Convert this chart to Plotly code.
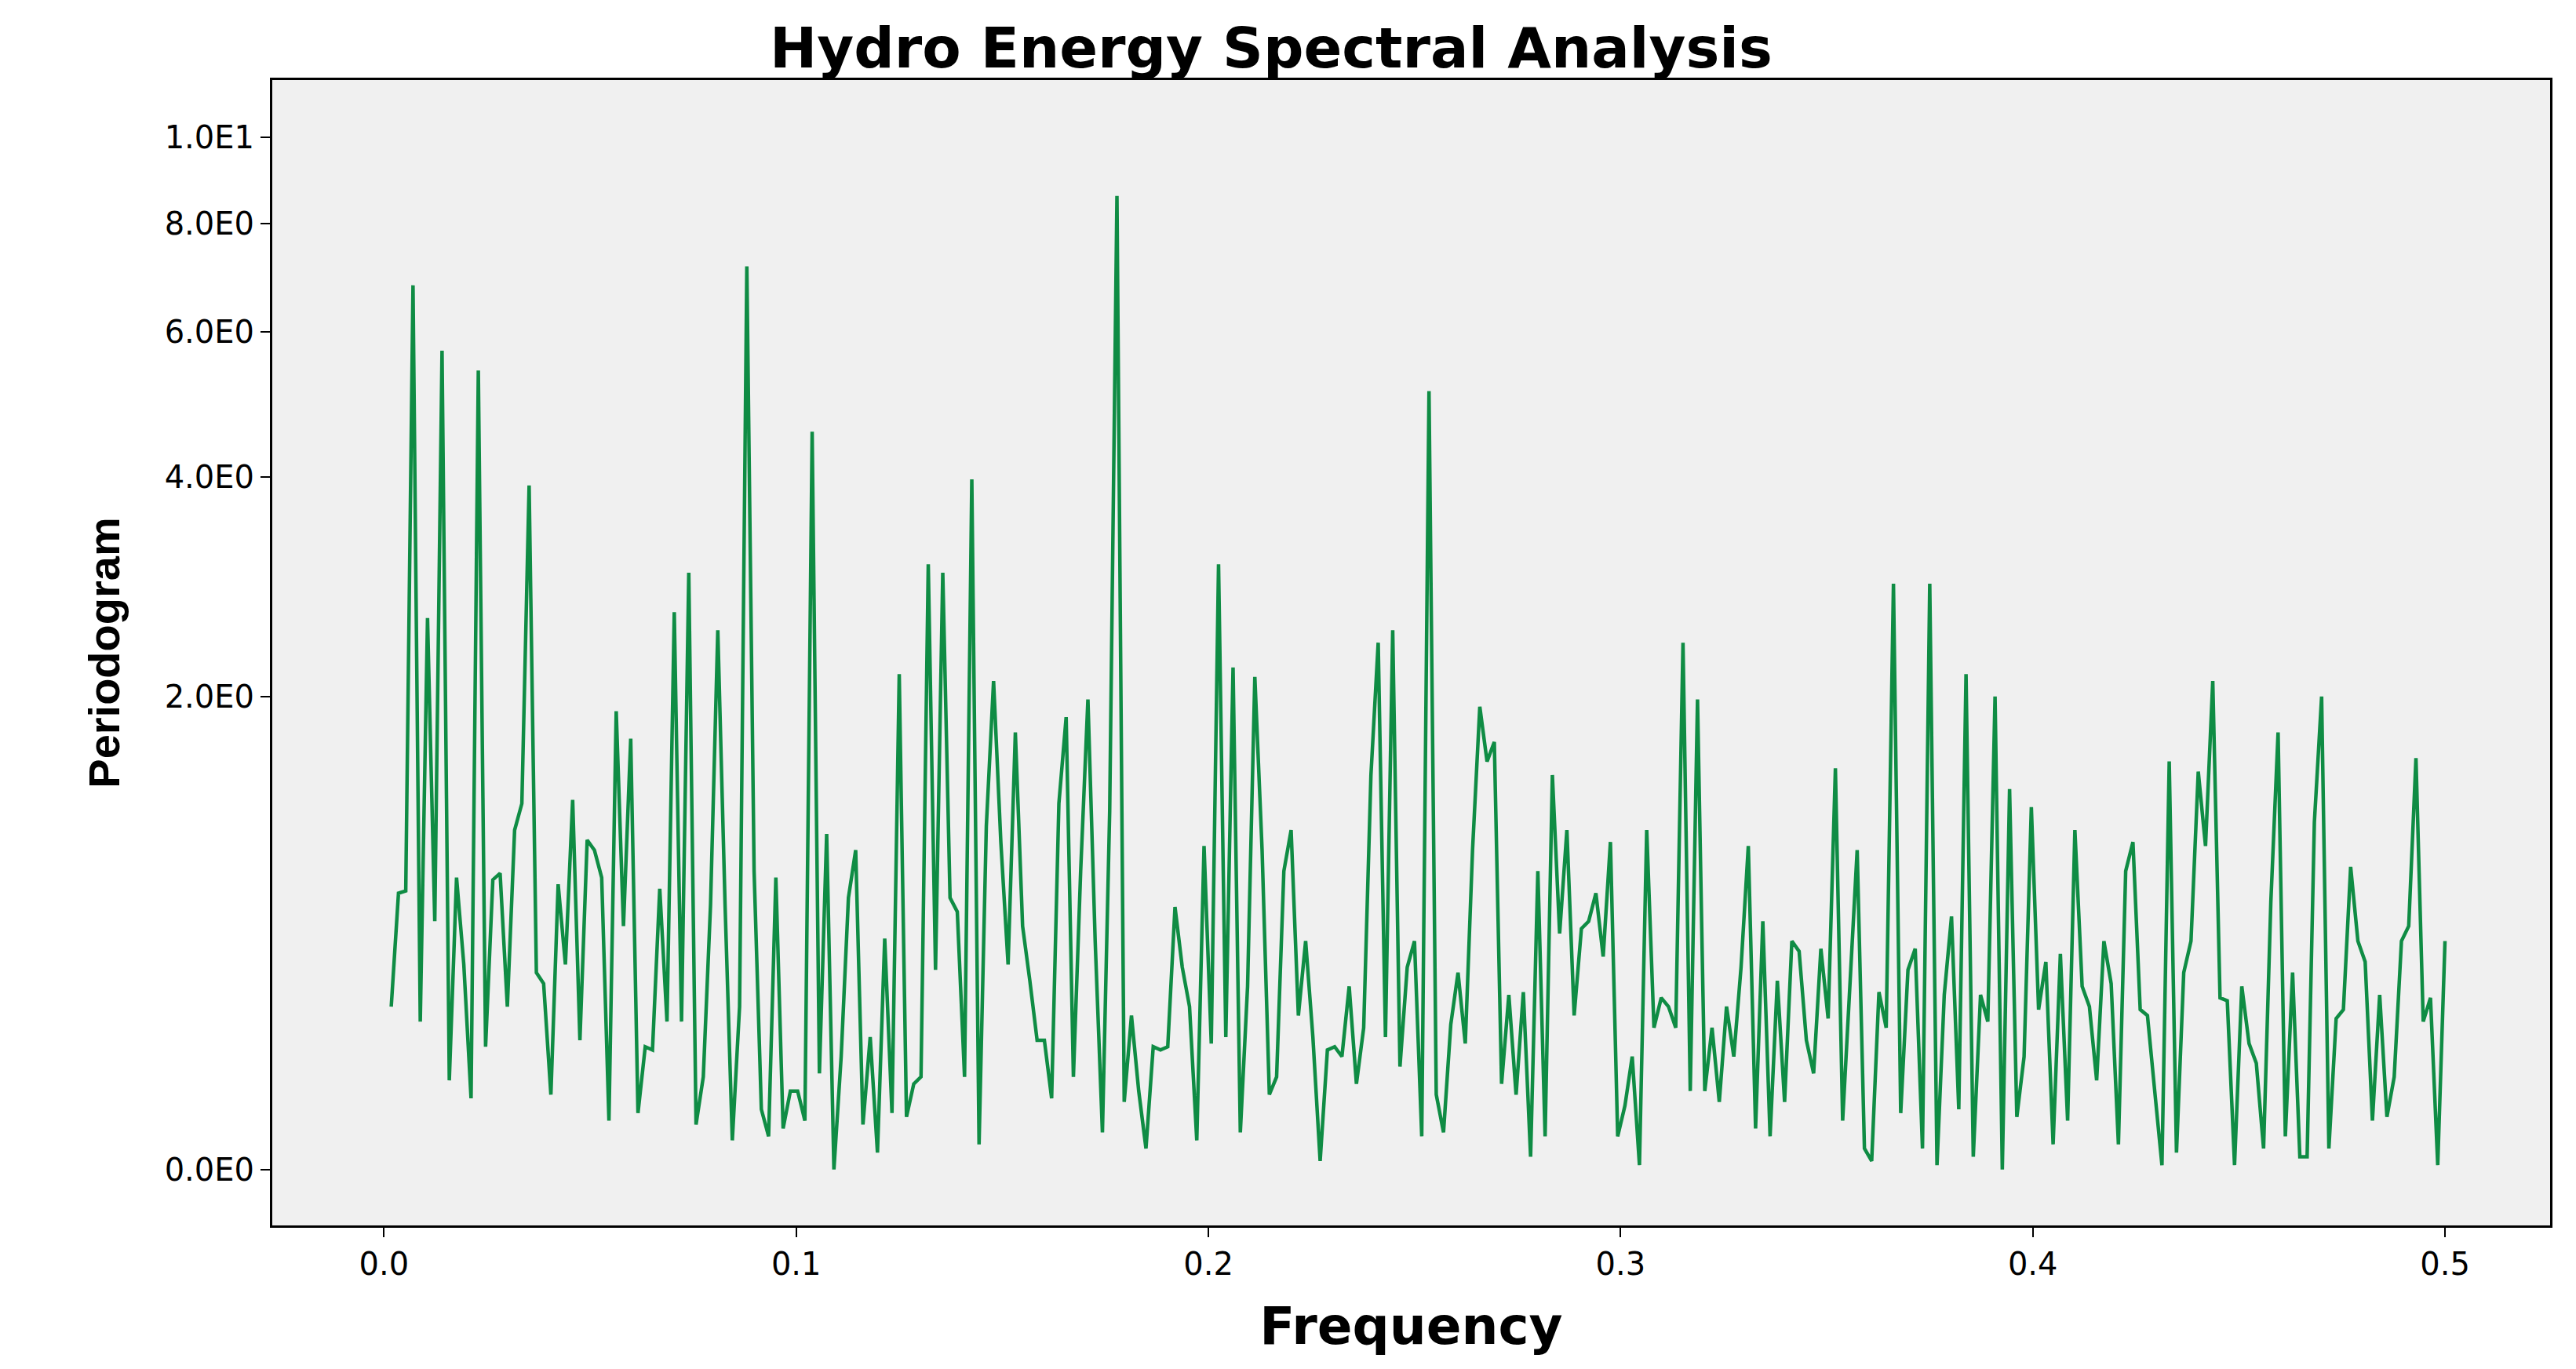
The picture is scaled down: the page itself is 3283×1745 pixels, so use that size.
import numpy as np
import plotly.graph_objects as go

periodogram = [
 0.46,0.90,0.91,6.8,0.41,2.6,0.78,5.7,0.23,0.97,0.61,0.18,5.4,0.33,0.96,0.99,0.46,1.2,1.34,3.9,
 0.58,0.54,0.19,0.94,0.61,1.36,0.35,1.15,1.1,0.97,0.12,1.9,0.76,1.72,0.14,0.33,0.32,0.92,0.41,2.65,
 0.41,3.0,0.11,0.24,0.85,2.5,0.85,0.07,0.46,7.15,1.0,0.15,0.08,0.97,0.1,0.2,0.2,0.12,4.55,
 0.25,1.18,0.0,0.30,0.88,1.1,0.11,0.36,0.04,0.71,0.14,2.16,0.13,0.22,0.24,3.08,0.59,3.0,0.88,0.82,
 0.24,3.97,0.06,1.22,2.11,1.14,0.61,1.76,0.76,0.55,0.35,0.35,0.18,1.34,1.86,0.24,1.0,1.98,0.70,0.09,1.3,8.6,
 0.17,0.43,0.2,0.05,0.33,0.32,0.33,0.84,0.6,0.46,0.07,1.12,0.34,3.08,0.36,2.21,
 0.09,0.53,2.14,1.1,0.19,0.24,1.0,1.2,0.43,0.7,0.36,0.02,0.32,0.33,0.3,0.53,0.22,0.39,1.5,2.4,0.36,2.5,0.27,0.6,0.70,
 0.08,5.1,0.19,0.09,0.4,0.58,0.34,1.1,1.93,1.58,1.70,0.22,0.5,0.19,0.51,0.03,1.0,0.08,1.5,0.73,1.2,0.43,0.75,0.78,0.9,
 0.64,1.14,0.08,0.16,0.3,0.01,1.2,0.39,0.49,0.46,0.39,
 2.4,0.2,1.98,0.2,0.39,0.17,0.46,0.30,0.6,1.12,0.1,0.78,0.08,0.55,0.17,0.70,0.66,0.35,0.25,0.67,0.42,1.54,
 0.12,0.54,1.1,0.05,0.02,0.51,0.39,2.9,0.14,0.59,0.67,0.05,2.9,0.01,0.5,0.8,0.15,2.16,0.03,0.5,0.41,2.0,
 0.0,1.42,0.13,0.3,1.32,0.45,0.62,0.06,0.65,0.12,1.2,0.53,0.46,0.23,
 0.7,0.54,0.06,1.0,1.14,0.45,0.43,0.2,0.01,1.58,0.04,0.58,0.70,1.52,1.12,2.11,0.49,0.48,0.01,0.53,0.34,
 0.28,0.05,0.86,1.76,0.08,0.58,0.03,0.03,1.24,2.0,0.05,0.42,0.45,1.02,0.70,0.62,0.12,0.5,0.13,0.24,
 0.70,0.76,1.6,0.41,0.49,0.01,0.70]
n = len(periodogram)
frequency = [(i + 1) / (2 * n) for i in range(n)]

y_tick_values = [0, 2, 4, 6, 8, 10]
y_tick_labels = ["0.0E0", "2.0E0", "4.0E0", "6.0E0", "8.0E0", "1.0E1"]
x_tick_values = [0.0, 0.1, 0.2, 0.3, 0.4, 0.5]
x_tick_labels = ["0.0", "0.1", "0.2", "0.3", "0.4", "0.5"]

wide = "DejaVu Sans, Verdana, sans-serif"
fig = go.Figure(go.Scatter(
    x=frequency, y=np.log1p(periodogram), mode="lines",
    line=dict(color="#0f8c44", width=4.5), showlegend=False))

fig.update_layout(
    width=3283, height=1745,
    paper_bgcolor="white", plot_bgcolor="#f0f0f0",
    margin=dict(l=339, r=41, t=94, b=191),
    title=dict(text="<b>Hydro Energy Spectral Analysis</b>", x=0.491, xanchor="center",
               y=0.97, yanchor="middle",
               font=dict(family=wide, size=72, color="black")),
    font=dict(family=wide, color="black"),
)
fig.update_xaxes(range=[-0.0271, 0.5255], tickvals=x_tick_values, ticktext=x_tick_labels,
                 ticks="outside", ticklen=12, tickwidth=2, tickcolor="black",
                 tickfont=dict(size=40), showgrid=False, zeroline=False,
                 showline=True, linecolor="black", linewidth=3, mirror=True,
                 title=dict(text="<b>Frequency</b>", font=dict(size=66), standoff=34))
fig.update_yaxes(range=[-0.130, 2.531], tickvals=list(np.log1p(y_tick_values)), ticktext=y_tick_labels,
                 ticks="outside", ticklen=12, tickwidth=2, tickcolor="black",
                 tickfont=dict(size=40), showgrid=False, zeroline=False,
                 showline=True, linecolor="black", linewidth=3, mirror=True,
                 title=dict(text="<b>Periodogram</b>",
                            font=dict(family="Liberation Sans Narrow, Liberation Sans", size=56),
                            standoff=40))

fig.write_html("out.html")
